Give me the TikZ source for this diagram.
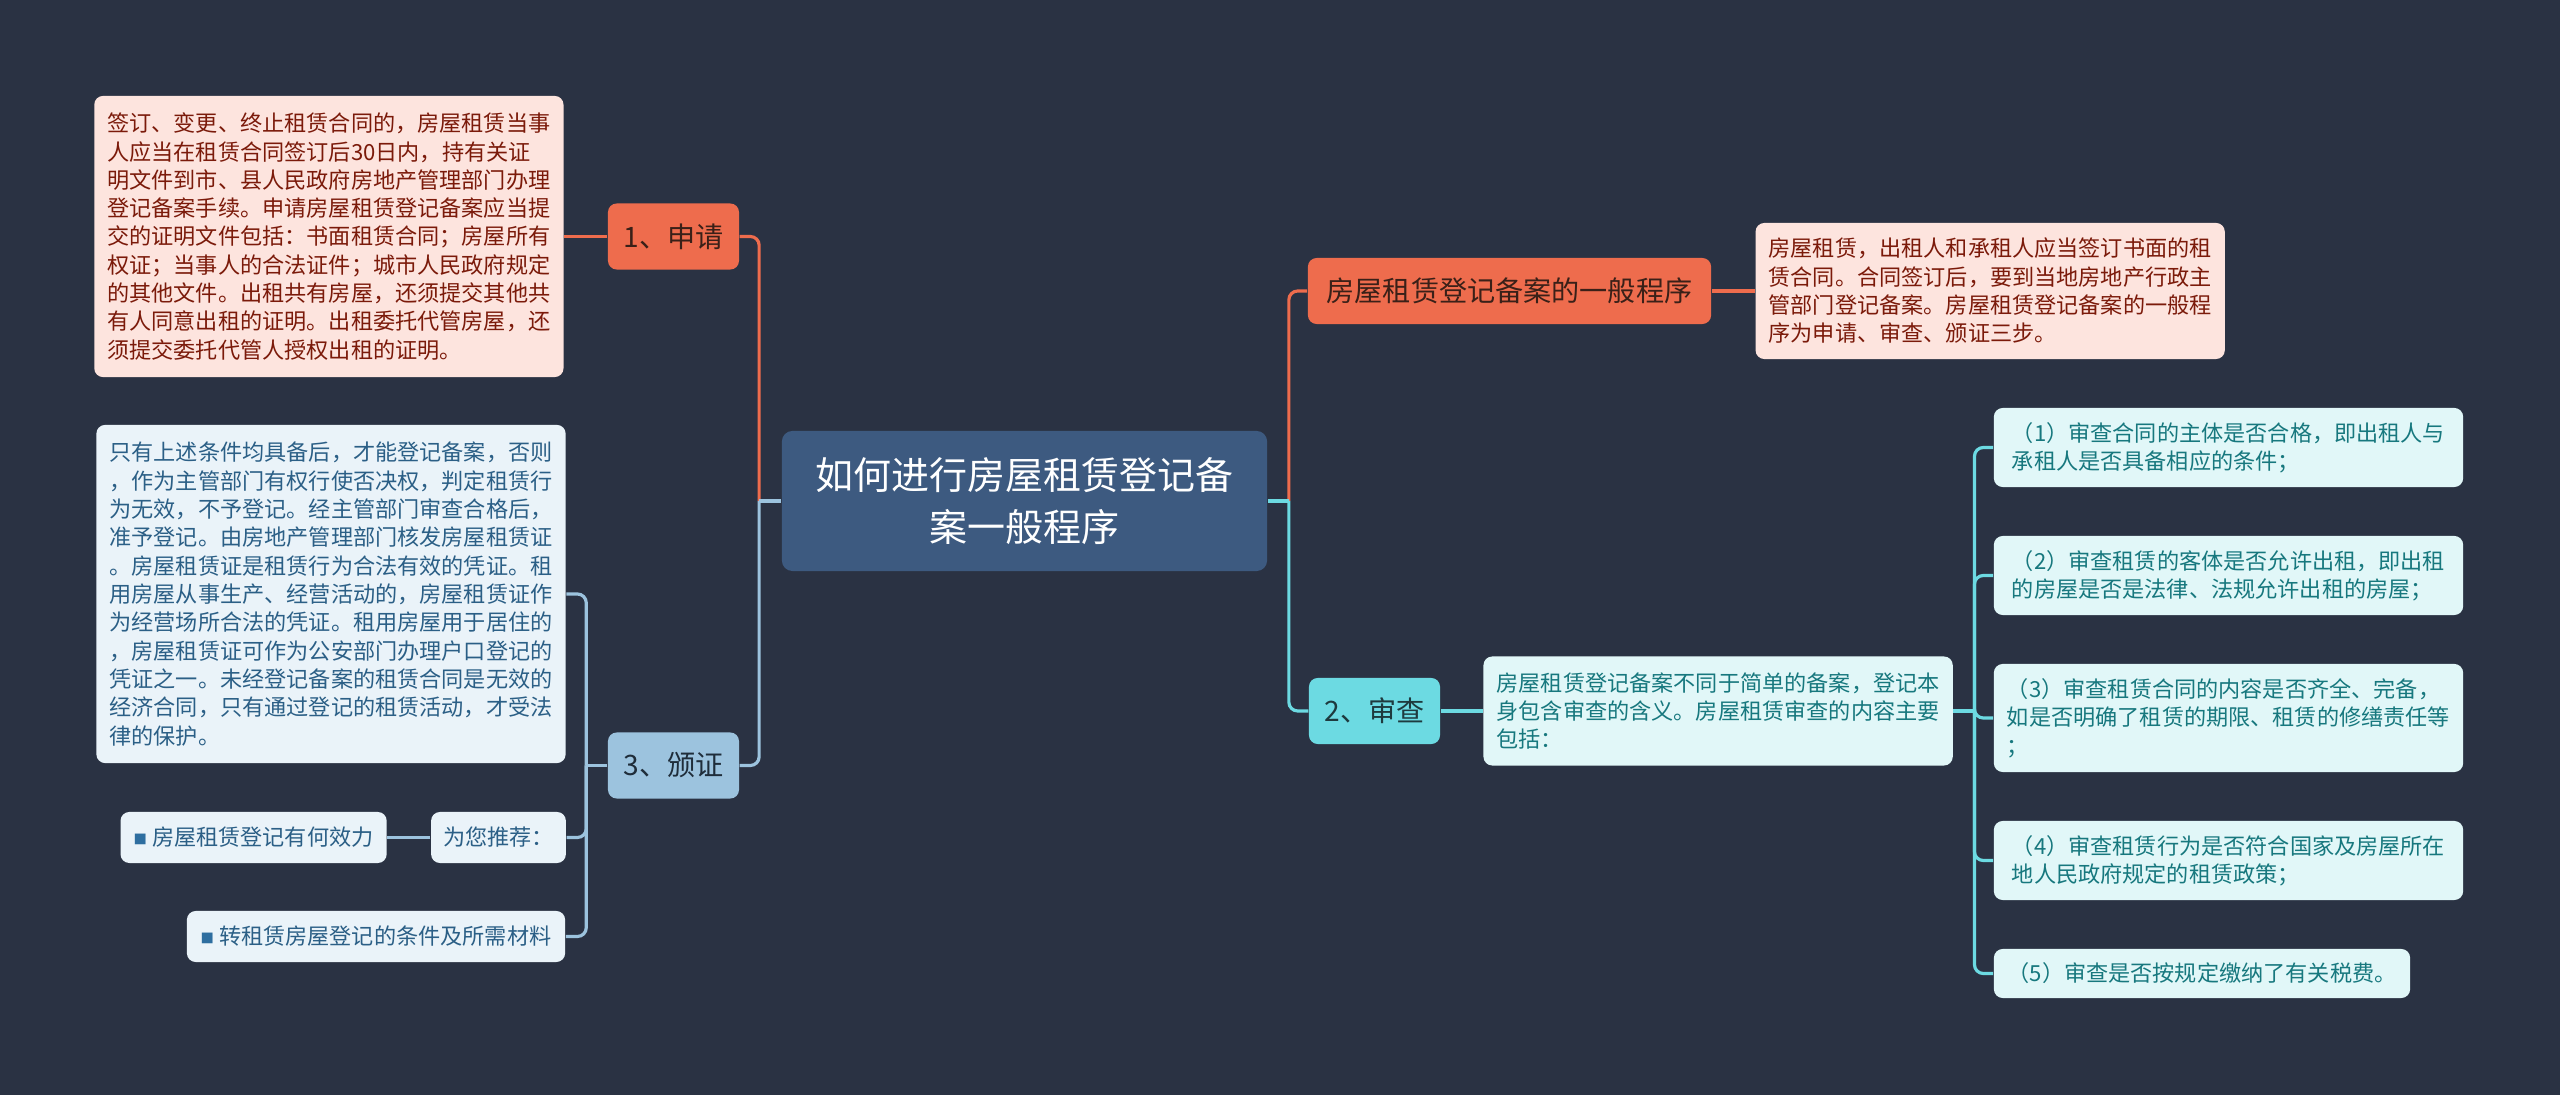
\documentclass[tikz,border=0pt]{standalone}
\usepackage{fontspec}
\setmainfont{Noto Sans CJK SC}
\usetikzlibrary{positioning}
\definecolor{bgc}{HTML}{2A3243}
\definecolor{rootc}{HTML}{3D5A80}
\definecolor{redc}{HTML}{EE6C4D}
\definecolor{redtxt}{HTML}{3A2018}
\definecolor{redfill}{HTML}{FDE4DE}
\definecolor{redink}{HTML}{7B1A0A}
\definecolor{cyanc}{HTML}{6CDAE2}
\definecolor{cyantxt}{HTML}{1E3A3E}
\definecolor{cyanfill}{HTML}{E1F7F8}
\definecolor{cyanink}{HTML}{17787E}
\definecolor{bluec}{HTML}{9CC3DE}
\definecolor{bluetxt}{HTML}{1F2D3A}
\definecolor{bluefill}{HTML}{EAF3F9}
\definecolor{blueink}{HTML}{2B5F86}
\definecolor{sqc}{HTML}{2E6EA0}
\newcommand{\sq}{{\color{sqc}\raisebox{0.4pt}{\fontsize{3.8}{4}\selectfont ■}}\hspace{0.05cm}}

\begin{document}
\begin{tikzpicture}[x=0.01cm, y=-0.01cm,
  every node/.style={font=\fontsize{6.3}{8.05}\selectfont, rounded corners=2.5pt, align=left, inner xsep=0.12cm, inner ysep=0.04cm},
  rootbox/.style={fill=rootc, text=white, font=\fontsize{10.8}{14.8}\selectfont, align=center, minimum width=4.85cm, minimum height=1.4cm, rounded corners=3pt},
  redbranch/.style={fill=redc, text=redtxt, font=\fontsize{8}{10}\selectfont, align=center, minimum width=1.31cm, minimum height=0.66cm},
  cyanbranch/.style={fill=cyanc, text=cyantxt, font=\fontsize{8}{10}\selectfont, align=center, minimum width=1.31cm, minimum height=0.66cm},
  bluebranch/.style={fill=bluec, text=bluetxt, font=\fontsize{8}{10}\selectfont, align=center, minimum width=1.31cm, minimum height=0.66cm},
  redinfo/.style={fill=redfill, text=redink, minimum width=4.69cm},
  cyaninfo/.style={fill=cyanfill, text=cyanink, minimum width=4.69cm},
  blueinfo/.style={fill=bluefill, text=blueink, minimum width=4.69cm},
  blueleaf/.style={fill=bluefill, text=blueink, align=center, minimum height=0.51cm},
  redln/.style={draw=redc, line width=0.9pt, rounded corners=2.5pt},
  cyanln/.style={draw=cyanc, line width=0.9pt, rounded corners=2.5pt},
  blueln/.style={draw=bluec, line width=0.9pt, rounded corners=2.5pt}]
  \fill[bgc] (0,0) rectangle (2560,1095);
  \useasboundingbox (0,0) rectangle (2560,1095);

  \node[rootbox] (root) at (1024.5,501) {如何进行房屋租赁登记备\\案一般程序};

  \node[redbranch] (apply) at (673.5,236.5) {1、申请};
  \node[redinfo, minimum height=2.81cm, left=0.43cm of apply] (applyinfo) {签订、变更、终止租赁合同的，房屋租赁当事\\人应当在租赁合同签订后30日内，持有关证\\明文件到市、县人民政府房地产管理部门办理\\登记备案手续。申请房屋租赁登记备案应当提\\交的证明文件包括：书面租赁合同；房屋所有\\权证；当事人的合法证件；城市人民政府规定\\的其他文件。出租共有房屋，还须提交其他共\\有人同意出租的证明。出租委托代管房屋，还\\须提交委托代管人授权出租的证明。};

  \node[bluebranch] (issue) at (673.5,765.5) {3、颁证};
  \node[blueinfo, minimum height=3.38cm] (issueinfo) at (331,594) {只有上述条件均具备后，才能登记备案，否则\\，作为主管部门有权行使否决权，判定租赁行\\为无效，不予登记。经主管部门审查合格后，\\准予登记。由房地产管理部门核发房屋租赁证\\。房屋租赁证是租赁行为合法有效的凭证。租\\用房屋从事生产、经营活动的，房屋租赁证作\\为经营场所合法的凭证。租用房屋用于居住的\\，房屋租赁证可作为公安部门办理户口登记的\\凭证之一。未经登记备案的租赁合同是无效的\\经济合同，只有通过登记的租赁活动，才受法\\律的保护。};
  \node[blueleaf, minimum width=1.33cm] (recommend) at (498.5,837.5) {为您推荐：};
  \node[blueleaf, minimum width=2.66cm, left=0.43cm of recommend] (effect) {\sq 房屋租赁登记有何效力};
  \node[blueleaf, minimum width=3.78cm] (sublet) at (376,936.5) {\sq 转租赁房屋登记的条件及所需材料};

  \node[redbranch, minimum width=4.03cm] (proc) at (1509.5,291) {房屋租赁登记备案的一般程序};
  \node[redinfo, minimum height=1.36cm, right=0.43cm of proc] (procinfo) {房屋租赁，出租人和承租人应当签订书面的租\\赁合同。合同签订后，要到当地房地产行政主\\管部门登记备案。房屋租赁登记备案的一般程\\序为申请、审查、颁证三步。};

  \node[cyanbranch] (review) at (1374.5,711) {2、审查};
  \node[cyaninfo, minimum height=1.09cm, right=0.42cm of review] (reviewinfo) {房屋租赁登记备案不同于简单的备案，登记本\\身包含审查的含义。房屋租赁审查的内容主要\\包括：};

  \node[cyaninfo, minimum height=0.79cm] (check1) at (2228.5,447.5) {（1）审查合同的主体是否合格，即出租人与\\承租人是否具备相应的条件；};
  \node[cyaninfo, minimum height=0.79cm] (check2) at (2228.5,575.5) {（2）审查租赁的客体是否允许出租，即出租\\的房屋是否是法律、法规允许出租的房屋；};
  \node[cyaninfo, minimum height=1.08cm] (check3) at (2228.5,718) {（3）审查租赁合同的内容是否齐全、完备，\\如是否明确了租赁的期限、租赁的修缮责任等\\；};
  \node[cyaninfo, minimum height=0.79cm] (check4) at (2228.5,860.5) {（4）审查租赁行为是否符合国家及房屋所在\\地人民政府规定的租赁政策；};
  \node[cyaninfo, minimum width=4.16cm, minimum height=0.49cm] (check5) at (2202,973.5) {（5）审查是否按规定缴纳了有关税费。};

  \coordinate (lhub) at ([xshift=-0.22cm]root.west);
  \coordinate (rhub) at ([xshift=0.21cm]root.east);
  \coordinate (ihub) at ([xshift=-0.21cm]issue.west);
  \coordinate (chub) at ([xshift=0.21cm]reviewinfo.east);

  \draw[redln] (lhub) |- (apply.east);
  \draw[blueln] (lhub) |- (issue.east);
  \draw[blueln] (root.west) -- (lhub);
  \draw[redln] (apply.west) -- (applyinfo.east);
  \draw[blueln] (issue.west) -- (ihub);
  \draw[blueln] (ihub) |- (issueinfo.east);
  \draw[blueln] (ihub) |- (recommend.east);
  \draw[blueln] (ihub) |- (sublet.east);
  \draw[blueln] (recommend.west) -- (effect.east);

  \draw[redln] (rhub) |- (proc.west);
  \draw[cyanln] (rhub) |- (review.west);
  \draw[cyanln] (root.east) -- (rhub);
  \draw[redln] (proc.east) -- (procinfo.west);
  \draw[cyanln] (review.east) -- (reviewinfo.west);
  \draw[cyanln] (reviewinfo.east) -- (chub);
  \foreach \i in {1,...,5}
    \draw[cyanln] (chub) |- (check\i.west);
\end{tikzpicture}
\end{document}
